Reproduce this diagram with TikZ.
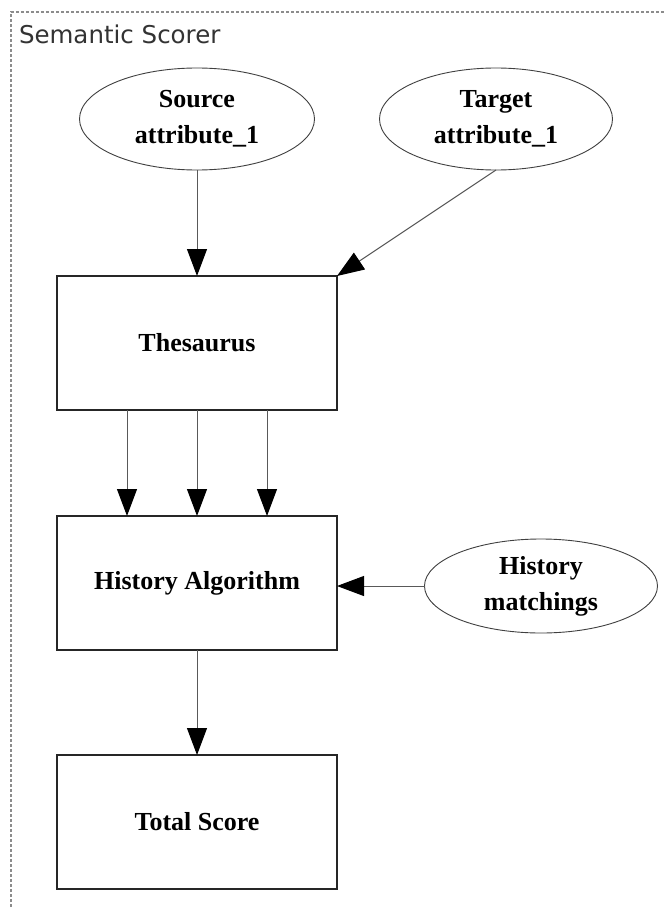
\documentclass[tikz,border=0pt]{standalone}
\usepackage{fontspec}
\setmainfont{Liberation Serif}
\newfontfamily\framefont{DejaVu Sans}
\usetikzlibrary{shapes.geometric,arrows.meta}
\begin{document}
\begin{tikzpicture}[x=1pt,y=-1pt,
  every node/.style={inner sep=0pt, outer sep=0pt},
  nodetext/.style={font=\fontsize{26}{36}\selectfont\bfseries, align=center, text=black},
  oval/.style={nodetext, ellipse, draw=black!75, line width=0.9pt},
  block/.style={nodetext, rectangle, draw=black!85, line width=1.3pt,
                minimum width=280pt, minimum height=134pt},
  flow/.style={draw=black!65, line width=1pt,
               -{Triangle[length=27pt,width=20pt,color=black,fill=black]}}
]
\useasboundingbox (0,0) rectangle (666,907);
\fill[white] (0,0) rectangle (666,907);

% enclosing frame
\draw[black!45, line width=1.2pt, dash pattern=on 3pt off 2pt]
  (11,907) -- (11,12) -- (666,12);
\node[anchor=base west, font=\framefont\fontsize{24.5}{28}\selectfont, text=black!80]
  (title) at (19,44) {Semantic Scorer};

% inputs
\node[oval, minimum width=235pt, minimum height=102pt] (src) at (197,119) {Source\\attribute\_1};
\node[oval, minimum width=233pt, minimum height=102pt] (tgt) at (496,119) {Target\\attribute\_1};
\node[oval, minimum width=233pt, minimum height=94pt] (hist) at (541,586) {History\\matchings};

% processing blocks
\node[block] (thes) at (197,343) {Thesaurus};
\node[block] (algo) at (197,583) {History Algorithm};
\node[block] (total) at (197,822) {Total Score};

% connectors
\draw[flow] (src.south) -- (thes.north);
\draw[flow] (tgt.south) -- (thes.north east);
\draw[flow] ([xshift=-70pt]thes.south) -- ([xshift=-70pt]algo.north);
\draw[flow] (thes.south) -- (algo.north);
\draw[flow] ([xshift=70pt]thes.south) -- ([xshift=70pt]algo.north);
\draw[flow] (hist.west) -- (algo.east |- hist.west);
\draw[flow] (algo.south) -- (total.north);
\end{tikzpicture}
\end{document}
